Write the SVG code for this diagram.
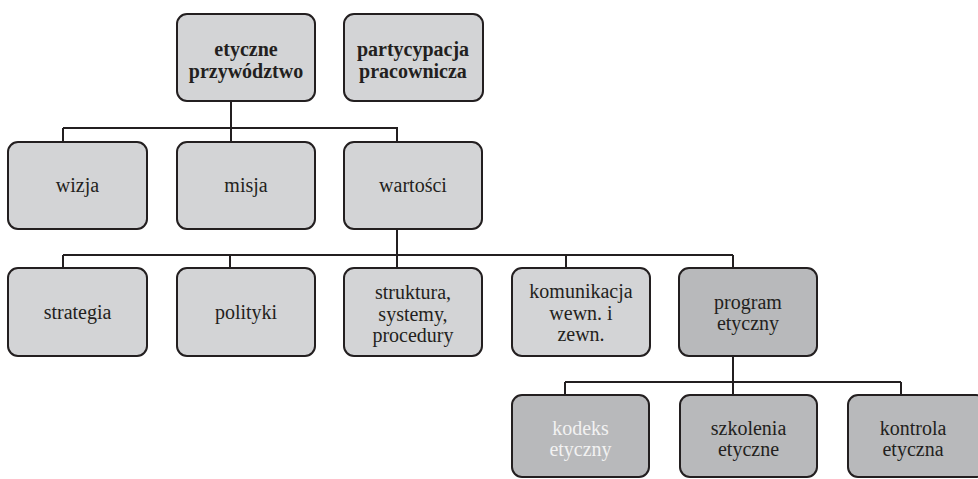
<svg xmlns="http://www.w3.org/2000/svg" width="978" height="479" viewBox="0 0 978 479">
<style>
.bx{fill:#d3d4d6;stroke:#231f20;stroke-width:2}
.dk{fill:#b8b9bb;stroke:#231f20;stroke-width:2}
text{font-family:'Liberation Serif','DejaVu Serif',serif;font-size:20px;fill:#231f20;text-anchor:middle}
.b{font-weight:bold}
.w{fill:#f2f2f2}
.c{fill:none;stroke:#231f20;stroke-width:2}
</style>
<rect width="978" height="479" fill="#ffffff"/>
<g id="connectors">
<path class="c" d="M231 101V128M63 128H398M63 128V142M231 128V142M397 128V142"/>
<path class="c" d="M397 229V268M63 255H733M63 255V268M230 255V268M566 255V268M733 255V268"/>
<path class="c" d="M733 356V395M565 382H901M565 382V395M901 382V395"/>
</g>
<g id="n-etyczne-przywodztwo">
<rect class="bx" x="177" y="14" width="138" height="87" rx="10"/>
<text class="b" x="246" y="56" font-family="Liberation Serif">etyczne</text>
<text class="b" x="246" y="78" font-family="Liberation Serif">przywództwo</text>
</g>
<g id="n-partycypacja">
<rect class="bx" x="344" y="14" width="139" height="87" rx="10"/>
<text class="b" x="413" y="56">partycypacja</text>
<text class="b" x="413" y="78">pracownicza</text>
</g>
<g id="n-wizja">
<rect class="bx" x="8" y="142" width="139" height="87" rx="10"/>
<text x="77.5" y="192">wizja</text>
</g>
<g id="n-misja">
<rect class="bx" x="177" y="142" width="138" height="87" rx="10"/>
<text x="246" y="192">misja</text>
</g>
<g id="n-wartosci">
<rect class="bx" x="344" y="142" width="138" height="87" rx="10"/>
<text x="413" y="192">wartości</text>
</g>
<g id="n-strategia">
<rect class="bx" x="8" y="268" width="139" height="88" rx="10"/>
<text x="77.5" y="319">strategia</text>
</g>
<g id="n-polityki">
<rect class="bx" x="177" y="268" width="138" height="88" rx="10"/>
<text x="246" y="319">polityki</text>
</g>
<g id="n-struktura">
<rect class="bx" x="344" y="268" width="138" height="88" rx="10"/>
<text x="413" y="299">struktura,</text>
<text x="413" y="320.5">systemy,</text>
<text x="413" y="342">procedury</text>
</g>
<g id="n-komunikacja">
<rect class="bx" x="512" y="268" width="138" height="88" rx="10"/>
<text x="581" y="298">komunikacja</text>
<text x="581" y="319.5">wewn. i</text>
<text x="581" y="341">zewn.</text>
</g>
<g id="n-program">
<rect class="dk" x="679" y="268" width="138" height="88" rx="10"/>
<text x="748" y="309">program</text>
<text x="748" y="330">etyczny</text>
</g>
<g id="n-kodeks">
<rect class="dk" x="512" y="395" width="137" height="82" rx="10"/>
<text class="w" x="580.5" y="435">kodeks</text>
<text class="w" x="580.5" y="456">etyczny</text>
</g>
<g id="n-szkolenia">
<rect class="dk" x="680" y="395" width="137" height="82" rx="10"/>
<text x="748.5" y="435">szkolenia</text>
<text x="748.5" y="456">etyczne</text>
</g>
<g id="n-kontrola">
<rect class="dk" x="848" y="395" width="138" height="82" rx="10"/>
<text x="913" y="435">kontrola</text>
<text x="913" y="456">etyczna</text>
</g>
</svg>
